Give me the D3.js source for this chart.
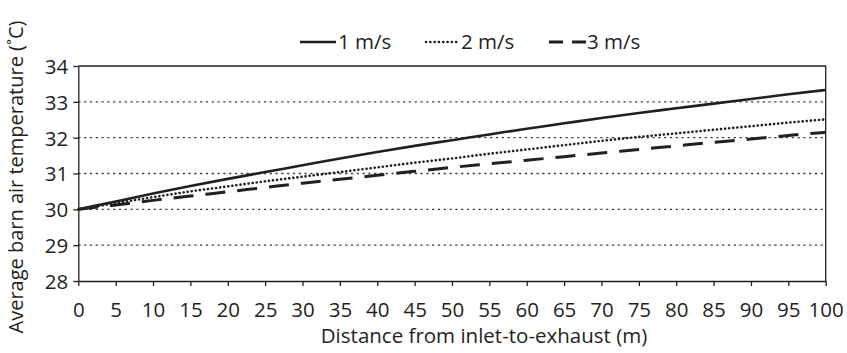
<!DOCTYPE html>
<html>
<head>
<meta charset="utf-8">
<script src="https://cdn.jsdelivr.net/npm/d3@7"></script>
<style>
  html, body { margin: 0; padding: 0; background: #fff; }
  svg { display: block; }
  text { font-family: "Open Sans", "Noto Sans", sans-serif; fill: #231f20; }
</style>
</head>
<body>
<svg id="chart" width="847" height="353"></svg>
<script>
// ---- data ----
const distances = [0, 5, 10, 15, 20, 25, 30, 35, 40, 45, 50, 55, 60, 65, 70, 75, 80, 85, 90, 95, 100];
const speed1 = [30.00, 30.22, 30.44, 30.65, 30.85, 31.04, 31.23, 31.42, 31.60, 31.77, 31.93, 32.09, 32.25, 32.40, 32.55, 32.69, 32.82, 32.95, 33.08, 33.21, 33.33];
const speed2 = [30.00, 30.17, 30.34, 30.50, 30.64, 30.78, 30.91, 31.04, 31.17, 31.30, 31.42, 31.55, 31.67, 31.79, 31.91, 32.02, 32.12, 32.22, 32.32, 32.42, 32.51];
const speed3 = [30.00, 30.12, 30.25, 30.37, 30.49, 30.61, 30.73, 30.84, 30.95, 31.06, 31.17, 31.27, 31.37, 31.47, 31.57, 31.67, 31.77, 31.87, 31.96, 32.06, 32.15];
const seriesNames = ["1 m/s", "2 m/s", "3 m/s"];
const xTicks = [0, 5, 10, 15, 20, 25, 30, 35, 40, 45, 50, 55, 60, 65, 70, 75, 80, 85, 90, 95, 100];
const yTicks = [28, 29, 30, 31, 32, 33, 34];
const gridValues = [29, 30, 31, 32, 33];
const xTitle = "Distance from inlet-to-exhaust (m)";
const yTitle = "Average barn air temperature (˚C)";

// ---- layout ----
const svg = d3.select("#chart");
const ink = "#231f20";
const fs = 20.5;
const pLeft = 78.3, pRight = 825.7, pTop = 66, pBottom = 281;

const x = d3.scaleLinear().domain([0, 100]).range([pLeft, pRight]);
const y = d3.scaleLinear().domain([28, 34]).range([pBottom, pTop]);

const styles = [
  { width: 2.6, dash: null, cap: "butt" },
  { width: 2.6, dash: "0.1 4", cap: "round" },
  { width: 3, dash: "20 12", cap: "butt" }
];

// gridlines
svg.append("g").selectAll("line").data(gridValues).join("line")
  .attr("x1", pLeft).attr("x2", pRight)
  .attr("y1", d => y(d)).attr("y2", d => y(d))
  .attr("stroke", "#3a3a3a").attr("stroke-width", 1.3)
  .attr("stroke-dasharray", "2.2 3.6");

// plot border (top and right)
svg.append("path")
  .attr("d", `M${pLeft},${pTop}H${pRight}V${pBottom}`)
  .attr("fill", "none").attr("stroke", ink).attr("stroke-width", 1.3);

// axes
const xAxis = svg.append("g").attr("transform", `translate(0,${pBottom})`)
  .call(d3.axisBottom(x).tickValues(xTicks).tickFormat(d3.format("d"))
    .tickSize(5).tickSizeOuter(0).tickPadding(16));
const yAxis = svg.append("g").attr("transform", `translate(${pLeft},0)`)
  .call(d3.axisLeft(y).tickValues(yTicks).tickFormat(d3.format("d"))
    .tickSize(5).tickSizeOuter(0).tickPadding(5));
[xAxis, yAxis].forEach(a => {
  a.select(".domain").attr("stroke", ink).attr("stroke-width", 1.3);
  a.selectAll(".tick line").attr("stroke", ink).attr("stroke-width", 1.3);
  a.selectAll(".tick text").attr("font-size", fs).attr("fill", ink)
    .attr("font-family", "'Open Sans', sans-serif");
});
xAxis.selectAll(".tick text").attr("dy", "0.71em");
yAxis.selectAll(".tick text").attr("dy", "0.36em");

// lines
const allSeries = [speed1, speed2, speed3];
const lineGen = d3.line().x((d, i) => x(distances[i])).y(d => y(d)).curve(d3.curveMonotoneX);
svg.append("g").selectAll("path").data(allSeries).join("path")
  .attr("d", d => lineGen(d))
  .attr("fill", "none")
  .attr("stroke", ink)
  .attr("stroke-width", (d, i) => styles[i].width)
  .attr("stroke-dasharray", (d, i) => styles[i].dash)
  .attr("stroke-linecap", (d, i) => styles[i].cap);

// axis titles
svg.append("text").attr("x", 484).attr("y", 343).attr("text-anchor", "middle")
  .attr("font-size", fs).text(xTitle);
svg.append("text").attr("transform", "translate(23,177) rotate(-90)")
  .attr("text-anchor", "middle").attr("font-size", 20).text(yTitle);

// legend
const legendItems = [
  { x1: 300, x2: 336, tx: 338 },
  { x1: 426, x2: 460, tx: 461 },
  { x1: 549, x2: 586, tx: 587 }
];
const lg = svg.append("g");
legendItems.forEach((it, i) => {
  lg.append("line").attr("x1", it.x1).attr("x2", it.x2).attr("y1", 42).attr("y2", 42)
    .attr("stroke", ink).attr("stroke-width", styles[i].width)
    .attr("stroke-dasharray", i === 2 ? "14 9" : (i === 1 ? "0.1 4.2" : null))
    .attr("stroke-linecap", styles[i].cap);
  lg.append("text").attr("x", it.tx).attr("y", 49).attr("font-size", fs).text(seriesNames[i]);
});
</script>
</body>
</html>
